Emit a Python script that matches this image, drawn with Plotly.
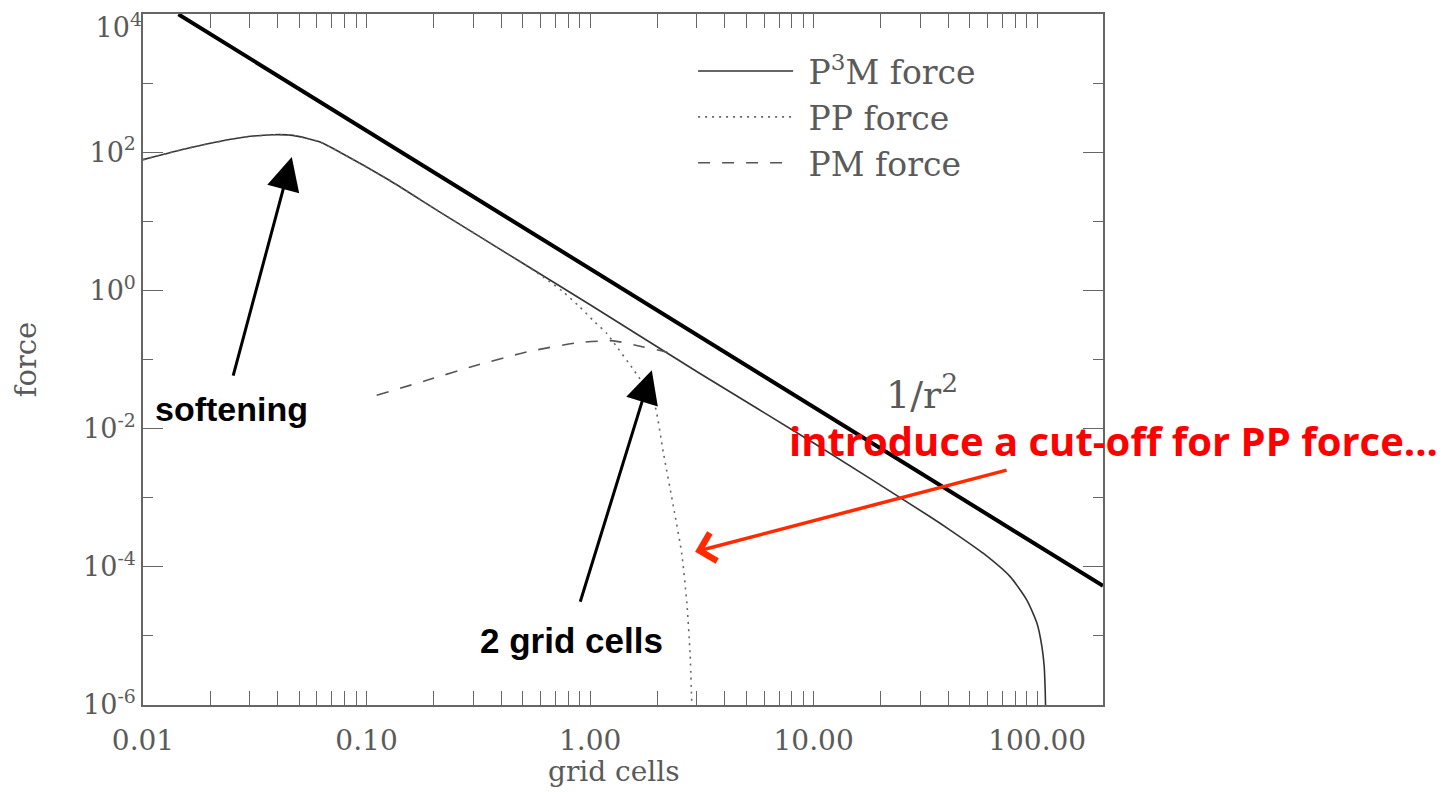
import math
import plotly.graph_objects as go

# ---- data (grid cells, force) ----
r2_x = [0.0144, 197.0]
r2_y = [9.9e3, 5.3e-5]

p3m_x = [0.01, 0.0162, 0.0272, 0.0382, 0.0469, 0.0619, 0.076, 0.127, 0.213, 0.5, 1.0, 3.1,
         10.0, 33.2, 40.8, 57.5, 75.7, 89.9, 99.8, 105.0, 107.5, 108.6, 109.0]
p3m_y = [78, 116, 162, 179, 175, 140, 100, 39, 13.6, 2.47, 0.62, 0.0627,
         0.0062, 5.3e-4, 3.4e-4, 1.56e-4, 7.2e-5, 3.3e-5, 1.52e-5, 7.0e-6, 3.6e-6, 1.66e-6, 1.0e-6]

pp_x = [0.01, 0.0162, 0.0272, 0.0382, 0.0469, 0.0619, 0.076, 0.127, 0.213, 0.5, 0.617, 0.75,
        0.90, 1.03, 1.19, 1.27, 1.58, 1.92, 2.13, 2.36, 2.57, 2.71, 2.80, 2.85]
pp_y = [78, 116, 162, 179, 175, 140, 100, 39, 13.6, 2.47, 1.56, 0.98,
        0.575, 0.37, 0.237, 0.179, 0.068, 0.0258, 0.00437, 7.4e-4, 1.56e-4, 2.96e-5, 5.6e-6, 1.06e-6]

pm_x = [0.111, 0.186, 0.311, 0.521, 0.871, 1.27, 1.73, 2.2, 2.5]
pm_y = [0.0304, 0.050, 0.0826, 0.1285, 0.174, 0.186, 0.152, 0.127, 0.0987]

x_ticks = [0.01, 0.1, 1, 10, 100]
x_ticktext = ["0.01", "0.10", "1.00", "10.00", "100.00"]
y_ticks = [1e-6, 1e-4, 1e-2, 1e0, 1e2]
y_ticktext = ["10<sup>-6</sup>", "10<sup>-4</sup>", "10<sup>-2</sup>", "10<sup>0</sup>",
              "10<sup>2</sup>"]
y_top_tick = [1e4]
y_top_text = ["10<sup>4</sup>"]
y_minor = [1e-5, 1e-3, 1e-1, 1e1, 1e3]

GREY = "#5a5a5a"
SERIF = "DejaVu Serif"
NB = "\u00a0"

fig = go.Figure()
fig.add_trace(go.Scatter(x=p3m_x, y=p3m_y, mode="lines", name=NB + "P<sup>3</sup>M force",
                         line=dict(color="#333333", width=1.6, shape="spline", smoothing=0.6)))
fig.add_trace(go.Scatter(x=pp_x, y=pp_y, mode="lines", name=NB + "PP force",
                         line=dict(color="#666666", width=1.6, dash="2px,5px",
                                   shape="spline", smoothing=0.6)))
fig.add_trace(go.Scatter(x=pm_x, y=pm_y, mode="lines", name=NB + "PM force",
                         line=dict(color="#555555", width=1.6, dash="12px,12px",
                                   shape="spline", smoothing=0.6)))
fig.add_trace(go.Scatter(x=r2_x, y=r2_y, mode="lines", name="1/r2", showlegend=False,
                         line=dict(color="black", width=4)))
# invisible trace tying the top-label axis so it renders
fig.add_trace(go.Scatter(x=r2_x, y=r2_y, mode="lines", yaxis="y2", showlegend=False,
                         hoverinfo="skip", line=dict(color="rgba(0,0,0,0)", width=0)))

OFF = 8  # page body margin
W, H = 1452, 792
L = 143 - OFF
T = 14 - OFF
R = W - (1103 - OFF)
B = H - (705 - OFF)

fig.update_layout(
    width=W, height=H,
    margin=dict(l=L, r=R, t=T, b=B, autoexpand=False),
    plot_bgcolor="white", paper_bgcolor="white",
    font=dict(family=SERIF, color=GREY, size=28),
    showlegend=True,
    legend=dict(x=0.573, y=0.958, xanchor="left", yanchor="top",
                bgcolor="rgba(0,0,0,0)", font=dict(family=SERIF, size=33, color=GREY),
                itemwidth=95, tracegroupgap=0),
)

fig.update_xaxes(
    type="log", range=[-2, math.log10(197)],
    tickvals=x_ticks, ticktext=x_ticktext,
    ticks="inside", ticklen=14, tickwidth=1.2, tickcolor="#666",
    showline=True, linecolor="#666", linewidth=1.5, mirror="allticks",
    showgrid=False, zeroline=False,
    tickfont=dict(family=SERIF, size=28, color=GREY), ticklabelstandoff=10,
    ticklabeloverflow="allow",
    minor=dict(dtick="D1", ticks="inside", ticklen=7, tickwidth=1.2, tickcolor="#666", showgrid=False),
    automargin=False,
)
fig.update_layout(yaxis=dict(
    type="log", range=[-6, 4],
    tickvals=y_ticks + y_top_tick, ticktext=y_ticktext + [""],
    ticks="inside", ticklen=20, tickwidth=1.2, tickcolor="#666",
    showline=True, linecolor="#666", linewidth=1.5, mirror="allticks",
    showgrid=False, zeroline=False,
    tickfont=dict(family=SERIF, size=27, color=GREY), ticklabelstandoff=0,
    ticklabeloverflow="allow",
    minor=dict(tickmode="array", tickvals=y_minor, ticks="inside", ticklen=10, tickwidth=1.2,
               tickcolor="#666", showgrid=False),
    title=dict(text="force", font=dict(family=SERIF, size=29, color=GREY), standoff=38),
    automargin=False,
))
fig.update_layout(yaxis2=dict(
    type="log", range=[-6, 4], overlaying="y", side="left",
    tickvals=y_top_tick, ticktext=y_top_text,
    ticks="", showline=False, showgrid=False, zeroline=False,
    tickfont=dict(family=SERIF, size=27, color=GREY), ticklabelstandoff=0,
    ticklabelshift=14, ticklabeloverflow="allow", automargin=False,
))

pw = W - L - R
ph = H - T - B
def px_x(p):
    return (p - OFF - L) / pw
def px_y(p):
    return (H - B - (p - OFF)) / ph

annos = []
common = dict(xref="paper", yref="paper", showarrow=False, xanchor="center", yanchor="middle")
annos.append(dict(text="grid cells", x=px_x(614), y=px_y(771),
                  font=dict(family=SERIF, size=28, color=GREY), **common))
annos.append(dict(text="<b>softening</b>", x=px_x(231), y=px_y(409),
                  font=dict(family="Liberation Sans", size=34, color="black"), **common))
annos.append(dict(text="<b>2 grid cells</b>", x=px_x(571), y=px_y(640),
                  font=dict(family="Liberation Sans", size=35, color="black"), **common))
annos.append(dict(text="1/r<sup>2</sup>", x=px_x(922), y=px_y(392),
                  font=dict(family=SERIF, size=38, color=GREY), **common))
annos.append(dict(text="<b>introduce a cut-off for PP force...</b>", x=px_x(1113), y=px_y(440),
                  font=dict(family="Open Sans", size=40, color="#ff0000", weight=800), **common))
# arrows (tip in axis coordinates, tail as pixel offset)
annos.append(dict(text="", x=math.log10(0.0463), y=math.log10(84.9), xref="x", yref="y",
                  showarrow=True, arrowhead=2, arrowsize=2.2, arrowwidth=3, arrowcolor="black",
                  ax=-59, ay=220))
annos.append(dict(text="", x=math.log10(1.888), y=math.log10(0.07), xref="x", yref="y",
                  showarrow=True, arrowhead=2, arrowsize=2.2, arrowwidth=3, arrowcolor="black",
                  ax=-72, ay=233))
annos.append(dict(text="", x=math.log10(2.95), y=math.log10(1.65e-4), xref="x", yref="y",
                  showarrow=True, arrowhead=4, arrowsize=1.6, arrowwidth=3.5, arrowcolor="#ff2a00",
                  ax=313, ay=-82))
fig.update_layout(annotations=annos)

fig.write_html("out.html")
